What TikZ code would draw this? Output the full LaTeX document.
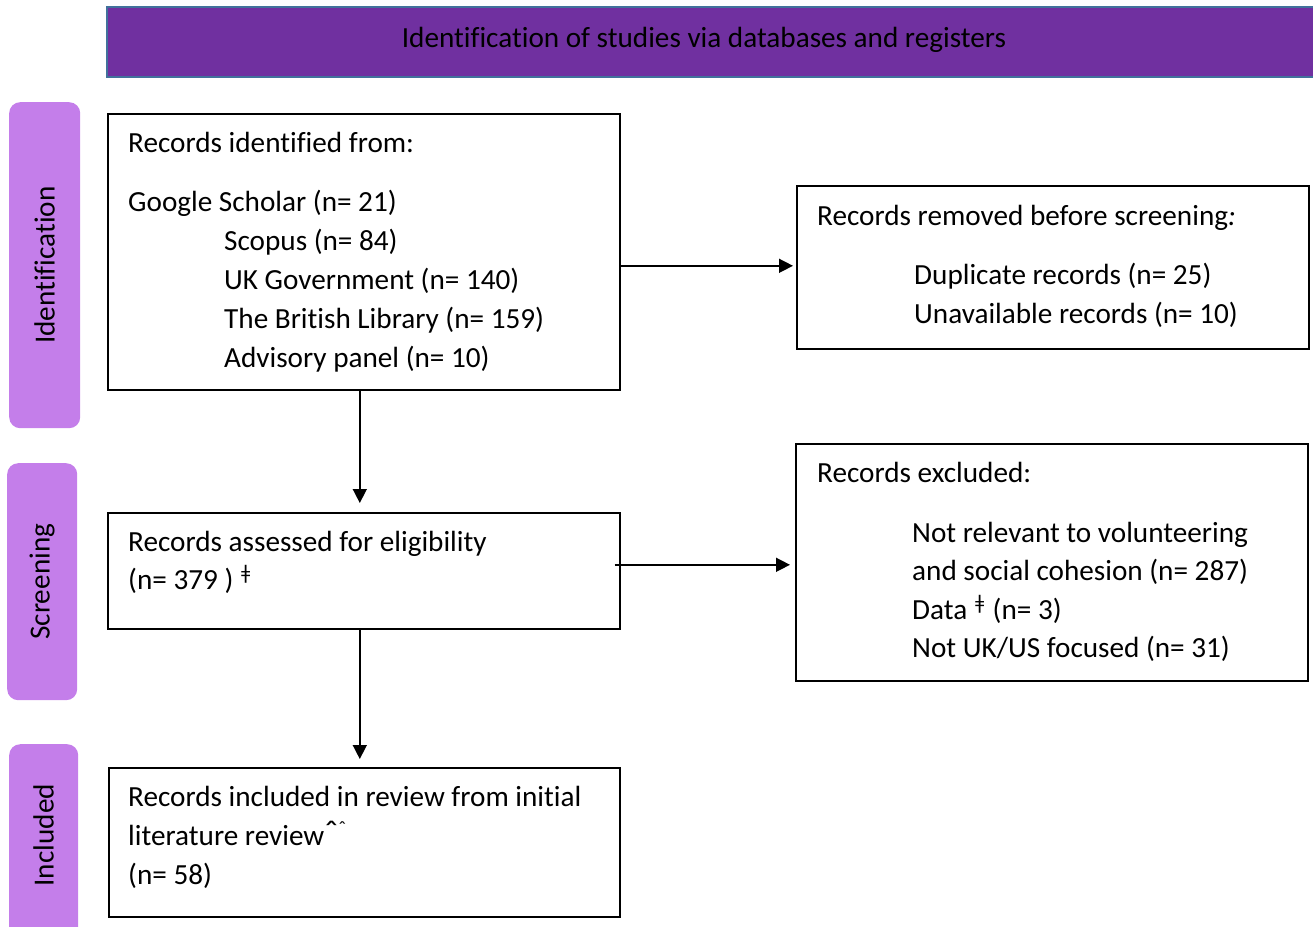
\documentclass[tikz,border=0pt]{standalone}
\usepackage{fontspec}
\setmainfont{Carlito}[Ligatures=NoCommon]
\usetikzlibrary{arrows.meta}
\definecolor{hdrfill}{HTML}{7030A0}
\definecolor{hdrline}{HTML}{41719C}
\definecolor{sidefill}{HTML}{C47EEA}
\tikzset{
  box/.style={draw=black, line width=1.6pt, rectangle, inner sep=0pt, anchor=north west},
  side/.style={fill=sidefill, draw=none, rounded corners=11pt, rectangle, inner sep=0pt, anchor=north west},
  sidetxt/.style={rotate=90, inner sep=0pt, font=\fontsize{29.2}{35}\selectfont},
  txt/.style={anchor=base west, inner sep=0pt, font=\fontsize{29.2}{35}\selectfont},
  arr/.style={line width=1.5pt, -{Triangle[length=14pt,width=14pt]}},
}
\begin{document}
\begin{tikzpicture}[x=1pt,y=-1pt]
\useasboundingbox (0,0) rectangle (1313,926);
\clip (0,0) rectangle (1313,926);
% header
\node[fill=hdrfill, draw=hdrline, line width=1.5pt, rectangle, inner sep=0pt, anchor=north west,
      minimum width=1220pt, minimum height=70pt] (hdr) at (106,6) {};
\node[txt, anchor=base] (hdrt) at (704,47) {Identification of studies via databases and registers};
% side labels
\node[side, minimum width=71pt, minimum height=326pt] (s1) at (9,102) {};
\node[sidetxt] (s1t) at (s1.center) {Identification};
\node[side, minimum width=70pt, minimum height=237pt] (s2) at (7,463) {};
\node[sidetxt] (s2t) at (s2.center) {Screening};
\node[side, minimum width=69pt, minimum height=200pt] (s3) at (9,744) {};
\node[sidetxt] (s3t) at ([yshift=9pt]s3.center) {Included};
% boxes
\node[box, minimum width=512pt, minimum height=276pt] (b1) at (107,113) {};
\node[box, minimum width=512pt, minimum height=163pt] (b2) at (796,185) {};
\node[box, minimum width=512pt, minimum height=116pt] (b3) at (107,512) {};
\node[box, minimum width=512pt, minimum height=237pt] (b4) at (795,443) {};
\node[box, minimum width=511pt, minimum height=149pt] (b5) at (108,767) {};
% box 1 text
\node[txt] (t11) at (128,152) {Records identified from:};
\node[txt] (t12) at (128,211) {Google Scholar (n= 21)};
\node[txt] (t13) at (224,250) {Scopus (n= 84)};
\node[txt] (t14) at (224,289) {UK Government (n= 140)};
\node[txt] (t15) at (224,328) {The British Library (n= 159)};
\node[txt] (t16) at (224,367) {Advisory panel (n= 10)};
% box 2 text
\node[txt] (t21) at (817,225) {Records removed before screening\textit{:}};
\node[txt] (t22) at (914,284) {Duplicate records (n= 25)};
\node[txt] (t23) at (914,323) {Unavailable records (n= 10)};
% box 3 text
\node[txt] (t31) at (128,551) {Records assessed for eligibility};
\node[txt] (t32) at (128,589) {(n= 379 ) \textsuperscript{ǂ}};
% box 4 text
\node[txt] (t41) at (817,482) {Records excluded:};
\node[txt] (t42) at (912,542) {Not relevant to volunteering};
\node[txt] (t43) at (912,580) {and social cohesion (n= 287)};
\node[txt] (t44) at (912,619) {Data \textsuperscript{ǂ} (n= 3)};
\node[txt] (t45) at (912,657) {Not UK/US focused (n= 31)};
% box 5 text
\node[txt] (t51) at (128,806) {Records included in review from initial};
\node[txt] (t52) at (128,845) {literature review{\fontsize{36}{36}\selectfont ˆ}\textsuperscript{ˆ}};
\node[txt] (t53) at (128,884) {(n= 58)};
% connectors
\draw[arr, shorten >=3pt] ([yshift=-14pt]b1.east) -- ([yshift=-14pt]b1.east -| b2.west);
\draw[arr, shorten >=9pt] ([xshift=-4pt]b1.south) -- ([xshift=-4pt]b1.south |- b3.north);
\draw[arr, shorten >=5pt] ([xshift=-6pt,yshift=6pt]b3.east) -- ([yshift=6pt]b3.east -| b4.west);
\draw[arr, shorten >=8pt] ([xshift=-4pt]b3.south) -- ([xshift=-4pt]b3.south |- b5.north);
\end{tikzpicture}
\end{document}
